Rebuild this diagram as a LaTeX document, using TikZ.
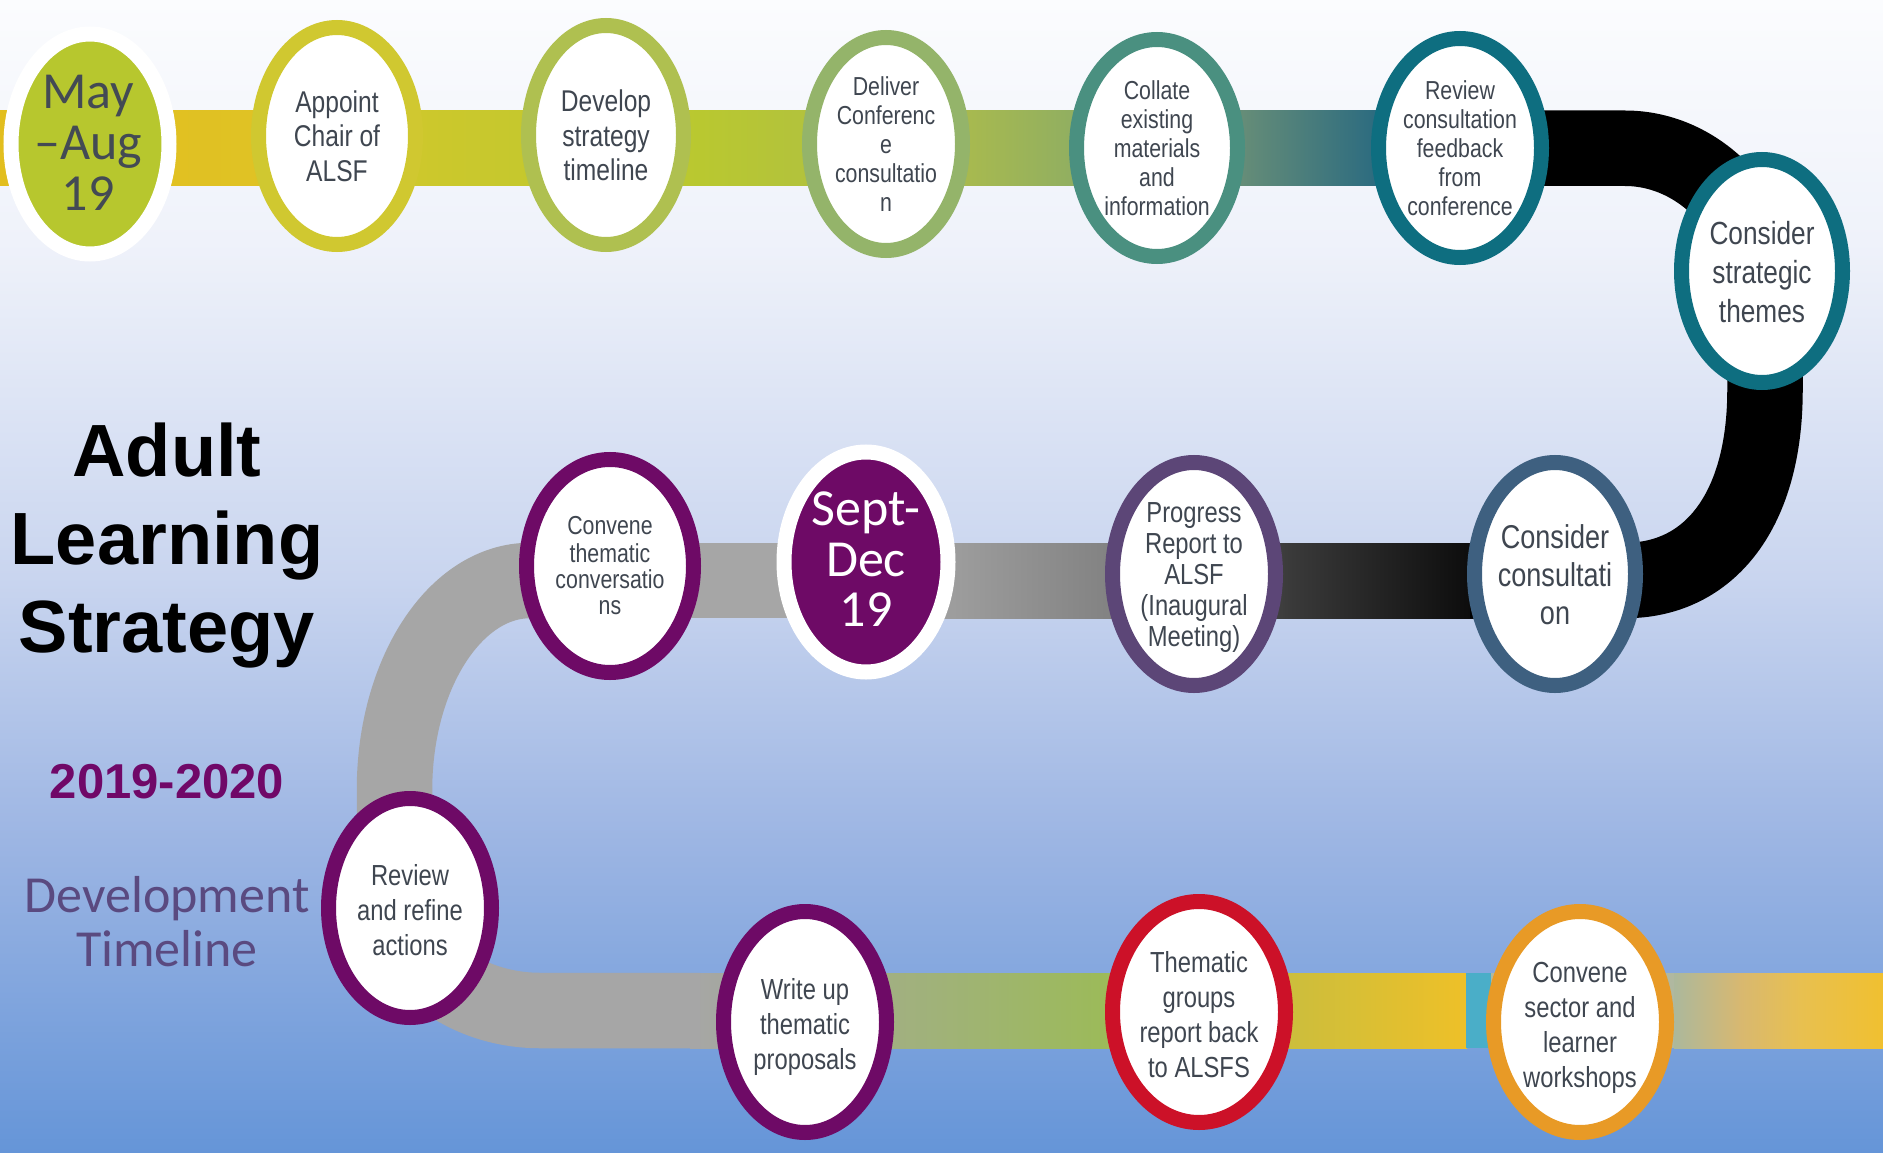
\documentclass[tikz,border=0pt]{standalone}
\usepackage{fontspec}
\setmainfont{Liberation Sans}
\newfontfamily\narrowfont[FakeStretch=0.82]{Liberation Sans}
\newfontfamily\calfont{Carlito}
\usetikzlibrary{shapes.geometric}
\definecolor{bgA}{HTML}{6595D8}
\definecolor{bgB}{HTML}{9CB5E3}
\definecolor{bgC}{HTML}{C9D5EF}
\definecolor{bgD}{HTML}{EFF2FA}
\definecolor{bgE}{HTML}{FBFCFE}
\pgfdeclareverticalshading{bgshade}{100bp}{color(0bp)=(bgA); color(25bp)=(bgA); color(38.5bp)=(bgB); color(50bp)=(bgC); color(64.5bp)=(bgD); color(75bp)=(bgE); color(100bp)=(bgE)}
\definecolor{txt}{HTML}{3F4650}
\definecolor{maytxt}{HTML}{434A54}
\definecolor{mayfill}{HTML}{B7C72E}
\definecolor{cAppoint}{HTML}{D0C830}
\definecolor{cDevelop}{HTML}{AFC050}
\definecolor{cDeliver}{HTML}{94B46A}
\definecolor{cCollate}{HTML}{4A9080}
\definecolor{cReview}{HTML}{0E6E80}
\definecolor{cConsCons}{HTML}{3E6080}
\definecolor{cProgress}{HTML}{5C4677}
\definecolor{cPurple}{HTML}{6E0A66}
\definecolor{cRed}{HTML}{CC1128}
\definecolor{cOrange}{HTML}{E89A26}
\definecolor{cGrey}{HTML}{A6A6A6}
\definecolor{cYear}{HTML}{700868}
\definecolor{cDev}{HTML}{5A4A80}
% band colours
\definecolor{t0}{HTML}{E2BE1E}
\definecolor{t1}{HTML}{E0C224}
\definecolor{t2}{HTML}{CCC82C}
\definecolor{t3}{HTML}{B9C830}
\definecolor{t4}{HTML}{A9BA4E}
\definecolor{t5}{HTML}{8FAE62}
\definecolor{t6}{HTML}{648C78}
\definecolor{t7}{HTML}{2A6A80}
\definecolor{m1}{HTML}{828282}
\definecolor{m2}{HTML}{3A3A3A}
\definecolor{m3}{HTML}{0A0A0A}
\definecolor{b1}{HTML}{9CBA5A}
\definecolor{b2}{HTML}{CCBE3C}
\definecolor{b3}{HTML}{EEC028}
\definecolor{b4}{HTML}{4AAEC8}
\definecolor{b5}{HTML}{B0B8A0}
\definecolor{b6}{HTML}{ACB89C}
\definecolor{b7}{HTML}{D8B870}
\definecolor{b8}{HTML}{E8C050}
\definecolor{b9}{HTML}{F0C030}
\tikzset{
  stage/.style={ellipse, draw=#1, line width=15pt, fill=white, inner sep=0pt},
  datebox/.style={ellipse, draw=white, fill=#1, line width=15pt, inner sep=0pt},
  lbl/.style 2 args={font=\narrowfont\fontsize{#1}{#2}\selectfont, text=txt, align=center, inner sep=0pt},
  bend/.style={line width=75.5pt, line cap=butt, draw=#1},
}
\begin{document}
\begin{tikzpicture}[x=1pt,y=-1pt]
\useasboundingbox (0,0) rectangle (1883,1153);
\fill[shading=bgshade] (0,0) rectangle (1883,1153);

% ---- top band
\shade[left color=t0, right color=t1] (0,110.5) rectangle (251,186);
\shade[left color=t1, right color=t2] (250,110.5) rectangle (431,186);
\shade[left color=t2, right color=t3] (430,110.5) rectangle (701,186);
\shade[left color=t3, right color=t4] (700,110.5) rectangle (961,186);
\shade[left color=t4, right color=t5] (960,110.5) rectangle (1081,186);
\shade[left color=t5, right color=t6] (1080,110.5) rectangle (1246,186);
\shade[left color=t6, right color=t7] (1245,110.5) rectangle (1381,186);
\shade[left color=t7, right color=black] (1380,110.5) rectangle (1541,186);

% ---- middle band
\fill[cGrey] (525,543) rectangle (901,618);
\shade[left color=cGrey, right color=m1] (900,543) rectangle (1111,618);
\shade[left color=m1, right color=m2] (1110,543) rectangle (1291,618);
\shade[left color=m2, right color=m3] (1290,543) rectangle (1481,618);

% ---- bottom band
\shade[left color=cGrey, right color=b1] (690,973) rectangle (1101,1048);
\shade[left color=b1, right color=b2] (1100,973) rectangle (1291,1048);
\shade[left color=b2, right color=b3] (1290,973) rectangle (1467,1048);
\fill[b4] (1466,973) rectangle (1492,1048);
\fill[b5] (1491,973) rectangle (1675,1048);
\shade[left color=b6, right color=b7] (1674,973) rectangle (1741,1048);
\shade[left color=b7, right color=b8] (1740,973) rectangle (1801,1048);
\shade[left color=b8, right color=b9] (1800,973) rectangle (1883,1048);

% ---- bends
\draw[bend=black] (1530,148.25) -- (1625,148.25) .. controls (1700,148.25) and (1765,215) .. (1765,300) -- (1765,390) .. controls (1765,510) and (1710,580.5) .. (1625,580.5) -- (1470,580.5);
\draw[bend=cGrey] (620,580.5) -- (530,580.5) .. controls (455,580.5) and (394.5,674) .. (394.5,790) -- (394.5,890) .. controls (394.5,956) and (460,1010.5) .. (540,1010.5) -- (700,1010.5);

% ---- left titles
\node[font=\bfseries\fontsize{74}{88}\selectfont, align=center, inner sep=0pt] (title) at (167,547) {\strut Adult\\Learning\\Strategy\strut};
\node[font=\bfseries\fontsize{49}{55}\selectfont, text=cYear, anchor=base, inner sep=0pt] (years) at (167,798) {2019-2020};
\node[font=\calfont\fontsize{52}{54}\selectfont, text=cDev, align=center, inner sep=0pt] (devtl) at (167,929) {\strut Development\\Timeline\strut};

% ---- stages
\node[datebox=mayfill, minimum width=158pt, minimum height=220pt] (may) at (90,144) {};
\node[font=\calfont\fontsize{52}{51}\selectfont, text=maytxt, align=center, inner sep=0pt] (mayT) at (88,149) {\strut May\\–Aug\\19\strut};

\node[stage=cAppoint, minimum width=157pt, minimum height=217pt] (appoint) at (337,136) {};
\node[lbl={30}{35}] (appointT) at (337,140) {\strut Appoint\\Chair of\\ALSF\strut};

\node[stage=cDevelop, minimum width=155pt, minimum height=219pt] (develop) at (606,135) {};
\node[lbl={30}{35}] (developT) at (606,139) {\strut Develop\\strategy\\timeline\strut};

\node[stage=cDeliver, minimum width=153pt, minimum height=213pt] (deliver) at (886,144) {};
\node[lbl={26}{29}] (deliverT) at (886,148) {\strut Deliver\\Conferenc\\e\\consultatio\\n\strut};

\node[stage=cCollate, minimum width=161pt, minimum height=217pt] (collate) at (1157,148) {};
\node[lbl={26}{29}] (collateT) at (1157,152) {\strut Collate\\existing\\materials\\and\\information\strut};

\node[stage=cReview, minimum width=163pt, minimum height=219pt] (review) at (1460,148) {};
\node[lbl={26}{29}] (reviewT) at (1460,152) {\strut Review\\consultation\\feedback\\from\\conference\strut};

\node[stage=cReview, minimum width=161pt, minimum height=223pt] (strat) at (1762,271) {};
\node[lbl={32}{39}] (stratT) at (1762,276) {\strut Consider\\strategic\\themes\strut};

\node[stage=cConsCons, minimum width=161pt, minimum height=223pt] (conscons) at (1555,574) {};
\node[lbl={33}{38}] (consconsT) at (1555,579) {\strut Consider\\consultati\\on\strut};

\node[stage=cProgress, minimum width=163pt, minimum height=223pt] (progress) at (1194,574) {};
\node[lbl={29}{31}] (progressT) at (1194,578) {\strut Progress\\Report to\\ALSF\\(Inaugural\\Meeting)\strut};

\node[datebox=cPurple, minimum width=164pt, minimum height=220pt] (sept) at (866,562) {};
\node[font=\calfont\fontsize{52}{50.5}\selectfont, text=white, align=center, inner sep=0pt] (septT) at (866,566) {\strut Sept-\\Dec\\19\strut};

\node[stage=cPurple, minimum width=167pt, minimum height=213pt] (convthem) at (610,566) {};
\node[lbl={26}{26}] (convthemT) at (610,569) {\strut Convene\\thematic\\conversatio\\ns\strut};

\node[stage=cPurple, minimum width=163pt, minimum height=219pt] (refine) at (410,908) {};
\node[lbl={29}{35}] (refineT) at (410,913) {\strut Review\\and refine\\actions\strut};

\node[stage=cPurple, minimum width=163pt, minimum height=221pt] (writeup) at (805,1022) {};
\node[lbl={29}{35}] (writeupT) at (805,1027) {\strut Write up\\thematic\\proposals\strut};

\node[stage=cRed, minimum width=173pt, minimum height=221pt] (thematic) at (1199,1012) {};
\node[lbl={29}{35}] (thematicT) at (1199,1018) {\strut Thematic\\groups\\report back\\to ALSFS\strut};

\node[stage=cOrange, minimum width=173pt, minimum height=221pt] (convsect) at (1580,1022) {};
\node[lbl={29}{35}] (convsectT) at (1580,1028) {\strut Convene\\sector and\\learner\\workshops\strut};
\end{tikzpicture}
\end{document}
